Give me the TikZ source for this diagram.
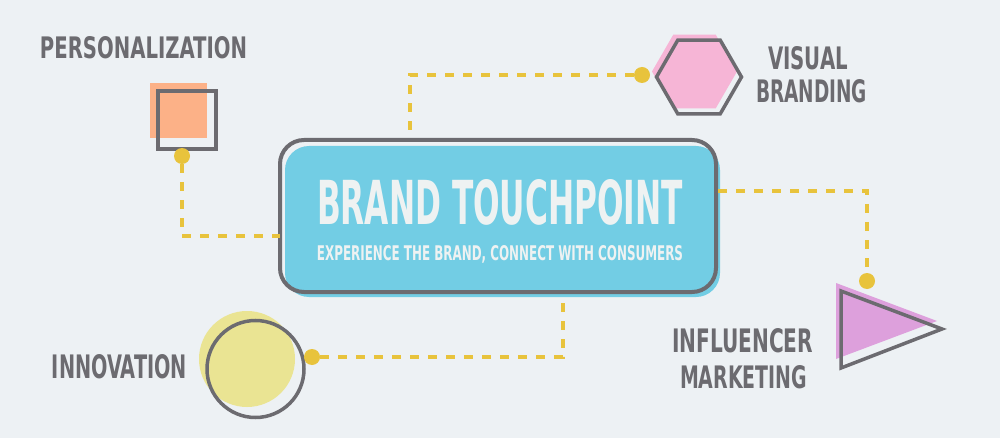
\documentclass[tikz,border=0pt]{standalone}
\usepackage{fontspec}
\usepackage{graphicx}
\newfontfamily\lblfont{DejaVu Sans Condensed Bold}
\newcommand\fitlbl[3]{\resizebox{#1pt}{#2pt}{\lblfont #3}}
\definecolor{bg}{HTML}{EDF1F4}
\definecolor{ink}{HTML}{6C6B70}
\definecolor{dashc}{HTML}{E8C33C}
\definecolor{orng}{HTML}{FCB187}
\definecolor{pnk}{HTML}{F6B5D6}
\definecolor{purp}{HTML}{DDA0DC}
\definecolor{ylw}{HTML}{EAE493}
\definecolor{blu}{HTML}{72CDE4}
\definecolor{txtw}{HTML}{EEF2F2}
\begin{document}
\begin{tikzpicture}[x=1pt,y=-1pt,
  lbl/.style={inner sep=0pt, anchor=base, text=ink},
  dashln/.style={draw=dashc, line width=4pt, dash pattern=on 9pt off 9pt},
  dotn/.style={circle, fill=dashc, minimum size=16pt, inner sep=0pt},
  outl/.style={draw=ink, line width=3.5pt},
]
\fill[bg] (0,0) rectangle (1000,438);
\useasboundingbox (0,0) rectangle (1000,438);

% main box
\fill[blu, rounded corners=24pt] (285,146) rectangle (720,297);
\node[draw=ink, line width=4pt, rounded corners=24pt, minimum width=436pt, minimum height=152pt, inner sep=0pt] (box) at (498,216) {};
\node[lbl, text=txtw] (title) at (500,225) {\fitlbl{366}{45}{BRAND TOUCHPOINT}};
\node[lbl, text=txtw] (sub) at (500,260) {\fitlbl{366}{15}{EXPERIENCE THE BRAND, CONNECT WITH CONSUMERS}};

% connector end points on the box
\coordinate (e1) at (280,236);
\coordinate (e2) at (410,138);
\coordinate (e3) at (718,191);
\coordinate (e4) at (563,297);

% personalization
\fill[orng] (150,83) rectangle (207,138);
\node[outl, minimum size=58pt, inner sep=0pt] (sq) at (187,120) {};
\node[lbl] (t1) at (143.5,59) {\fitlbl{207}{22}{PERSONALIZATION}};

% visual branding
\fill[pnk] (737,71.5) -- (715.75,34.7) -- (673.25,34.7) -- (652,71.5) -- (673.25,108.3) -- (715.75,108.3) -- cycle;
\draw[outl] (741.5,77) -- (720.25,40.2) -- (677.75,40.2) -- (656.5,77) -- (677.75,113.8) -- (720.25,113.8) -- cycle;
\node[lbl] (t2a) at (808,70) {\fitlbl{80}{23}{VISUAL}};
\node[lbl] (t2b) at (811.5,103) {\fitlbl{111}{23}{BRANDING}};

% influencer marketing
\fill[purp] (836,283) -- (937,321) -- (836,359) -- cycle;
\draw[outl] (841,291) -- (942,329) -- (841,368) -- cycle;
\node[lbl] (t3a) at (742.5,352) {\fitlbl{141}{24}{INFLUENCER}};
\node[lbl] (t3b) at (743.5,388) {\fitlbl{127}{23}{MARKETING}};

% innovation
\node[circle, fill=ylw, minimum size=96pt, inner sep=0pt] (yc) at (247,359) {};
\node[circle, outl, minimum size=97pt, inner sep=0pt] (gc) at (255.5,369) {};
\node[lbl] (t4) at (119.5,378) {\fitlbl{135}{24}{INNOVATION}};

% dots
\node[dotn] (d1) at (182,156) {};
\node[dotn] (d2) at (642,75) {};
\node[dotn] (d3) at (867,281) {};
\node[dotn] (d4) at (312,357) {};

% connectors
\draw[dashln] (d1.south) |- (e1);
\draw[dashln] (d2.west) -| (e2);
\draw[dashln] (e3) -| (d3.north);
\draw[dashln] (d4.east) -| (e4);
\end{tikzpicture}
\end{document}
